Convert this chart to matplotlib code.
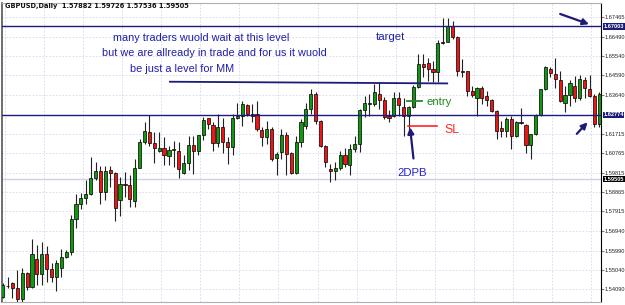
"""
GBPUSD Daily 캔들 차트 재현 (MT4 스타일)
출력: out.png (625x305)
"""

import matplotlib
matplotlib.use("Agg")
import matplotlib.pyplot as plt
import matplotlib.transforms as mtransforms
import numpy as np

# ── 데이터 ──────────────────────────────────────────────────────────
OPEN = [
    1.53713, 1.54251, 1.54383, 1.54139, 1.53600, 1.54902, 1.54188, 1.55573, 1.54824, 1.55802,
    1.55083, 1.54677, 1.55147, 1.55656, 1.55900, 1.57530, 1.58299, 1.58592, 1.58788, 1.59551,
    1.59879, 1.58866, 1.59928, 1.59796, 1.58460, 1.59277, 1.59194, 1.58436, 1.60051, 1.61347,
    1.61837, 1.61284, 1.60892, 1.61020, 1.60628, 1.60931, 1.60907, 1.59816, 1.60305, 1.61186,
    1.60892, 1.61690, 1.62507, 1.62179, 1.61284, 1.62082, 1.61313, 1.61069, 1.62507, 1.62586,
    1.63144, 1.62703, 1.62703, 1.61935, 1.61558, 1.61969, 1.60550, 1.60824, 1.61675, 1.60775,
    1.59796, 1.61347, 1.62130, 1.62948, 1.63682, 1.62375, 1.61152, 1.59977, 1.59879, 1.60041,
    1.60662, 1.60173, 1.60990, 1.61235, 1.62914, 1.63168, 1.63192, 1.63682, 1.63388, 1.62620,
    1.62620, 1.63486, 1.63036, 1.62620, 1.63060, 1.64005, 1.65150, 1.65228, 1.64905, 1.64739,
    1.66256, 1.66256, 1.67024, 1.66486, 1.64822, 1.64788, 1.63843, 1.63486, 1.63976, 1.63599,
    1.63388, 1.62830, 1.62018, 1.61886, 1.62458, 1.61641, 1.62326, 1.62179, 1.61201, 1.61724,
    1.62654, 1.63927, 1.64905, 1.64661, 1.64367, 1.63222, 1.63648, 1.64088, 1.63486, 1.64367,
    1.63927, 1.63599, 1.62214,
]
CLOSE = [
    1.54300, 1.54276, 1.54139, 1.53600, 1.54902, 1.54188, 1.55802, 1.54824, 1.55802, 1.55083,
    1.54677, 1.55362, 1.55656, 1.55900, 1.57564, 1.58299, 1.58592, 1.58788, 1.59551, 1.59879,
    1.58866, 1.59904, 1.59816, 1.58103, 1.59243, 1.59194, 1.58543, 1.60060, 1.61347, 1.61852,
    1.61284, 1.61039, 1.61039, 1.60662, 1.60941, 1.60980, 1.60011, 1.60305, 1.61186, 1.60907,
    1.61675, 1.62409, 1.62194, 1.61284, 1.62082, 1.61313, 1.61103, 1.62507, 1.62586, 1.63192,
    1.62703, 1.62620, 1.61969, 1.61592, 1.61969, 1.60501, 1.60746, 1.61690, 1.60746, 1.59796,
    1.61347, 1.62292, 1.62948, 1.63682, 1.62375, 1.61152, 1.60334, 1.59879, 1.60041, 1.60662,
    1.60222, 1.60990, 1.61235, 1.62899, 1.63241, 1.63217, 1.63760, 1.63388, 1.62537, 1.62488,
    1.63486, 1.63144, 1.62620, 1.63060, 1.64005, 1.65150, 1.64984, 1.64905, 1.64739, 1.66207,
    1.66193, 1.67024, 1.66486, 1.64788, 1.64739, 1.63843, 1.63648, 1.63976, 1.63486, 1.63388,
    1.62830, 1.61886, 1.61886, 1.62458, 1.61641, 1.62326, 1.62243, 1.61201, 1.61724, 1.62654,
    1.63927, 1.65018, 1.64690, 1.64416, 1.63320, 1.63648, 1.64201, 1.63486, 1.64416, 1.63976,
    1.63599, 1.62214, 1.63682,
]
HIGH = [
    1.54398, 1.54692, 1.54462, 1.55034, 1.55117, 1.54951, 1.56586, 1.56258, 1.56390, 1.56209,
    1.55362, 1.55524, 1.56047, 1.56028, 1.57726, 1.58788, 1.58817, 1.59473, 1.60579, 1.60334,
    1.60124, 1.60124, 1.60124, 1.59845, 1.59586, 1.59845, 1.59683, 1.60501, 1.61494, 1.62326,
    1.62654, 1.61803, 1.61803, 1.61558, 1.61152, 1.61396, 1.61313, 1.60662, 1.61641, 1.61641,
    1.61690, 1.62537, 1.62522, 1.62292, 1.62703, 1.62507, 1.61558, 1.62703, 1.63222, 1.63354,
    1.63192, 1.63192, 1.63354, 1.62047, 1.62375, 1.62047, 1.60858, 1.61969, 1.61803, 1.60858,
    1.61641, 1.62458, 1.63222, 1.63927, 1.63760, 1.62424, 1.61201, 1.60256, 1.60334, 1.60907,
    1.61020, 1.61235, 1.61641, 1.62938, 1.63599, 1.63682, 1.64171, 1.64250, 1.63516, 1.62899,
    1.63760, 1.63760, 1.63486, 1.63109, 1.64137, 1.65669, 1.65669, 1.65473, 1.65312, 1.66325,
    1.67431, 1.67431, 1.67269, 1.66535, 1.65395, 1.64822, 1.64088, 1.64015, 1.64088, 1.63843,
    1.63437, 1.62899, 1.62375, 1.62537, 1.62620, 1.62341, 1.62997, 1.62214, 1.61739, 1.62703,
    1.63941, 1.65067, 1.65018, 1.65444, 1.64822, 1.64088, 1.64367, 1.64577, 1.64626, 1.64494,
    1.64626, 1.63682, 1.63760,
]
LOW = [
    1.53664, 1.54153, 1.53649, 1.53483, 1.53483, 1.54055, 1.54153, 1.54300, 1.54300, 1.54462,
    1.54462, 1.54006, 1.54706, 1.55621, 1.55768, 1.57124, 1.58054, 1.58299, 1.58705, 1.59439,
    1.58299, 1.58460, 1.59111, 1.57432, 1.57677, 1.58621, 1.58132, 1.58132, 1.60026, 1.61235,
    1.61152, 1.60305, 1.60858, 1.60173, 1.60173, 1.60090, 1.59551, 1.59767, 1.59928, 1.59767,
    1.60662, 1.61431, 1.61984, 1.60907, 1.61069, 1.60775, 1.60222, 1.60662, 1.62473, 1.62130,
    1.62620, 1.62292, 1.61886, 1.61152, 1.61235, 1.60383, 1.59683, 1.60501, 1.59683, 1.59767,
    1.59767, 1.61069, 1.61969, 1.62703, 1.62214, 1.61069, 1.60090, 1.59356, 1.59439, 1.59928,
    1.60090, 1.59683, 1.60824, 1.60824, 1.62537, 1.62620, 1.63109, 1.62948, 1.62458, 1.62292,
    1.62571, 1.62620, 1.61641, 1.61724, 1.62997, 1.63976, 1.64494, 1.64333, 1.64250, 1.64250,
    1.66158, 1.66241, 1.66374, 1.64577, 1.64494, 1.63599, 1.63516, 1.62620, 1.63192, 1.63109,
    1.62781, 1.61480, 1.61592, 1.61592, 1.60990, 1.61592, 1.62214, 1.60775, 1.60501, 1.61690,
    1.62620, 1.63892, 1.64494, 1.63976, 1.63271, 1.62781, 1.63109, 1.63271, 1.63388, 1.63467,
    1.63516, 1.62082, 1.62047,
]

PRICE_TICKS = [1.67465, 1.66490, 1.65540, 1.64590, 1.63640, 1.61715, 1.60765,
               1.59815, 1.58865, 1.57915, 1.56940, 1.55990, 1.55040, 1.54090]
TARGET_LEVEL   = 1.67003
SUPPORT_LEVEL  = 1.62660
SUPPORT_LABEL  = "1.62774"
BID_LEVEL      = 1.59505
RESIST_LINE    = ([34.2, 90.9], [1.64284, 1.64201])   # 손으로 그린 추세선
TITLE = "GBPUSD,Daily  1.57882 1.59726 1.57536 1.59505"

# ── 색상 ──────────────────────────────────────────────────────────────────
COLOR_BULL  = "#0f990f"
COLOR_BEAR  = "#f01414"
COLOR_WICK  = "#222222"
COLOR_NAVY  = "#1c1c78"
COLOR_TEXT  = "#1e1eaa"
COLOR_GRID  = "#d6d6f0"
COLOR_ENTRY = "#1e8c1e"
COLOR_SL    = "#ff2424"
FONT_NOTE   = "Liberation Sans"
AXIS_FONT   = dict(family="Liberation Sans", size=4.1)


def draw_candles(ax):
    idx = np.arange(len(OPEN))
    o, c = np.array(OPEN), np.array(CLOSE)
    ax.vlines(idx, LOW, HIGH, color=COLOR_WICK, lw=0.8, zorder=3)
    colors = np.where(c >= o, COLOR_BULL, COLOR_BEAR)
    bottom = np.minimum(o, c)
    height = np.maximum(np.abs(c - o), 0.00015)
    ax.bar(idx, height, bottom=bottom, width=0.64, color=colors,
           edgecolor="black", linewidth=0.5, zorder=4)


def level_label(ax, y, text, bg):
    trans = mtransforms.blended_transform_factory(ax.transAxes, ax.transData)
    ax.text(1.004, y, text, transform=trans, color="white",
            ha="left", va="center", fontweight="bold", clip_on=False,
            bbox=dict(boxstyle="square,pad=0.12", fc=bg, ec="none"),
            zorder=10, **AXIS_FONT)


def arrow(ax, tail, tip, color=COLOR_NAVY):
    ax.annotate("", xy=tip, xytext=tail,
                arrowprops=dict(arrowstyle="-|>", color=color, lw=1.6,
                                mutation_scale=9, shrinkA=0, shrinkB=0),
                zorder=8)


def render(path):
    fig = plt.figure(figsize=(6.25, 3.05), dpi=100)
    ax = fig.add_axes([2 / 625, 3 / 305, 599 / 625, 299 / 305])
    ax.set_xlim(-0.14, 122.35)
    ax.set_ylim(1.53468, 1.68150)

    # 그리드
    ax.set_xticks(np.arange(0.4, len(OPEN), 8))
    ax.set_yticks(PRICE_TICKS)
    ax.set_yticklabels([f"{v:.5f}" for v in PRICE_TICKS], **AXIS_FONT)
    ax.grid(True, color=COLOR_GRID, linestyle=(0, (2, 2)), lw=0.6, zorder=0)
    ax.yaxis.tick_right()
    ax.tick_params(axis="x", length=0, labelbottom=False)
    ax.tick_params(axis="y", length=1.8, width=0.8, color="#b07040",
                   pad=0.8, labelcolor="#222222")
    for side, col, lw in [("left", "#555555", 1.2), ("right", "black", 0.8),
                          ("top", "#b0b0b0", 0.8), ("bottom", "#b0b0b0", 0.8)]:
        ax.spines[side].set_color(col)
        ax.spines[side].set_linewidth(lw)

    # 수평선
    ax.axhline(BID_LEVEL, color="#cfcff0", lw=1.0, zorder=1)
    ax.axhline(TARGET_LEVEL, color=COLOR_NAVY, lw=1.0, zorder=5)
    ax.axhline(SUPPORT_LEVEL, color=COLOR_NAVY, lw=1.0, zorder=5)
    ax.plot(*RESIST_LINE, color=COLOR_NAVY, lw=1.3, zorder=5)

    draw_candles(ax)

    level_label(ax, TARGET_LEVEL, f"{TARGET_LEVEL:.5f}", COLOR_NAVY)
    level_label(ax, SUPPORT_LEVEL, SUPPORT_LABEL, COLOR_NAVY)
    level_label(ax, BID_LEVEL, f"{BID_LEVEL:.5f}", "black")

    # 주석 텍스트
    note = dict(family=FONT_NOTE, fontsize=7.8, color=COLOR_TEXT,
                ha="center", va="center", zorder=9)
    ax.text(40.5, 1.66452, "many traders wuold wait at this level", **note)
    ax.text(43.2, 1.65718, "but we are allready in trade and for us it wuold", **note)
    ax.text(36.7, 1.64905, "be just a level for MM", **note)
    ax.text(79.3, 1.66501, "target", **{**note, "fontsize": 8.2})
    ax.text(83.7, 1.59796, "2DPB", **{**note, "fontsize": 8.2, "color": "#2222c8"})
    ax.text(89.2, 1.63305, "entry", **{**note, "fontsize": 8.2, "color": COLOR_ENTRY})
    ax.text(91.9, 1.61920, "SL", **{**note, "fontsize": 8.8, "color": COLOR_SL})

    # entry 표시(+)와 SL 선
    ax.plot([82.7, 85.7], [1.63354, 1.63354], color=COLOR_ENTRY, lw=1.3, zorder=9)
    ax.plot([84.1, 84.1], [1.63109, 1.63550], color=COLOR_ENTRY, lw=1.3, zorder=9)
    ax.plot([82.9, 88.9], [1.62096, 1.62096], color=COLOR_SL, lw=1.2, zorder=9)

    # 화살표
    arrow(ax, (84.0, 1.60516), (83.3, 1.62047))
    arrow(ax, (114.0, 1.67612), (119.9, 1.67108))
    arrow(ax, (117.4, 1.61724), (119.6, 1.62292))

    fig.text(5 / 625, 1 - 6 / 305, TITLE, fontsize=4.8, color="#111111",
             ha="left", va="center", fontweight="bold")

    fig.savefig(path, dpi=100)
    plt.close(fig)


if __name__ == "__main__":
    render("out.png")
